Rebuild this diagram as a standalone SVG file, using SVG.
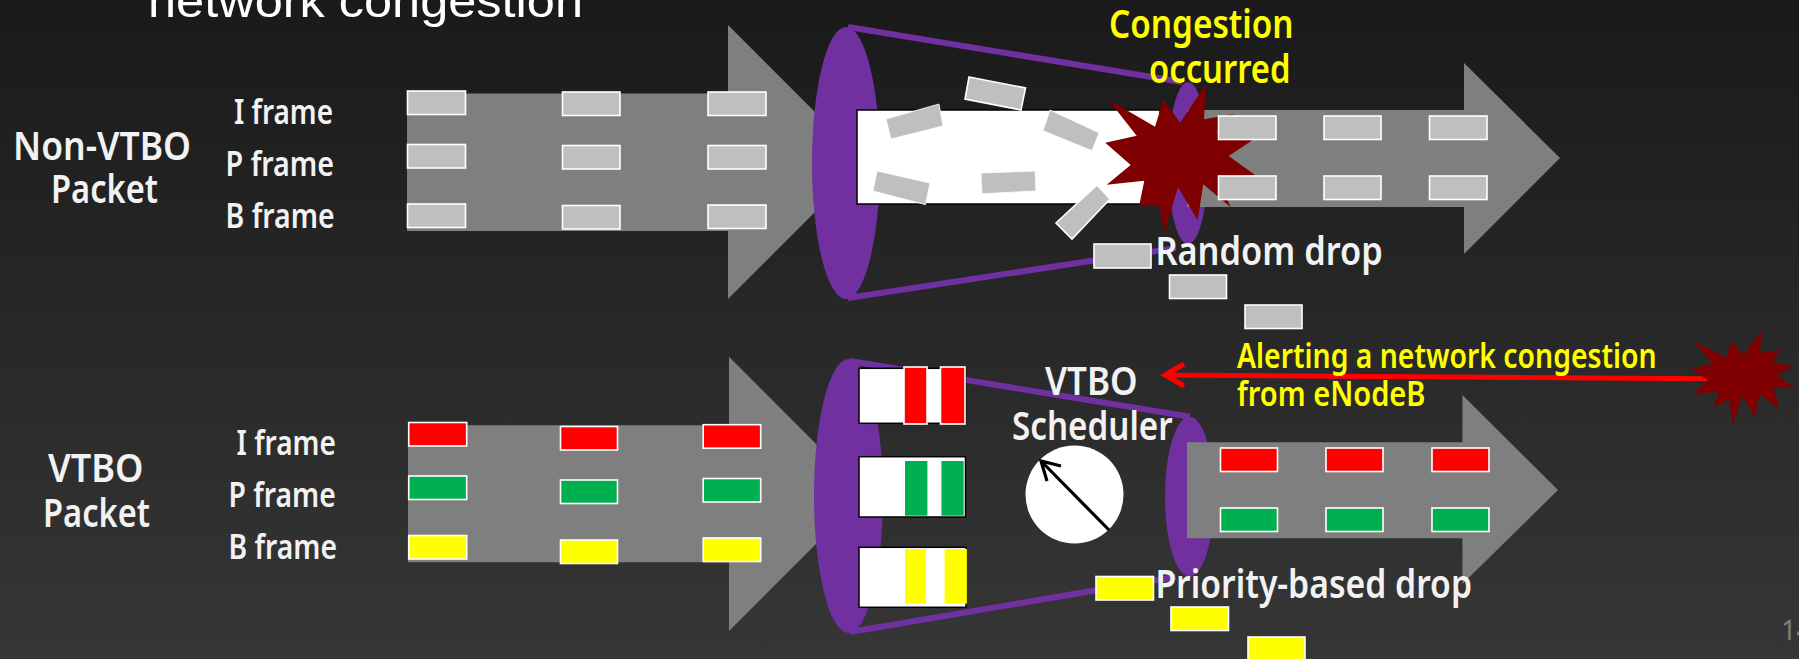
<svg xmlns="http://www.w3.org/2000/svg" width="1799" height="659" viewBox="0 0 1799 659">
<defs>
<linearGradient id="bg" x1="0" y1="0" x2="0" y2="1"><stop offset="0" stop-color="#1a1a1a"/><stop offset="1" stop-color="#363636"/></linearGradient>
</defs>
<style>
.t{font-family:"Noto Sans","DejaVu Sans",sans-serif;font-weight:600;fill:#f2f2f2;font-size:35px}
.lg{font-size:39px}
.y{fill:#ffff00}
.arrow{fill:#7f7f7f}
.pur{fill:#7030a0}
.pl{stroke:#7030a0;stroke-width:6;fill:none}
.pk{stroke:#fff;stroke-width:1.6}
.g{fill:#bfbfbf}.r{fill:#ff0000}.n{fill:#00b050}.w{fill:#ffff00}
.box{fill:#fff;stroke:#000;stroke-width:1.5}
.star{fill:#7f0000}
</style>
<rect width="1799" height="659" fill="url(#bg)"/>
<text x="148" y="17" font-family="'Liberation Sans',Arial,sans-serif" font-size="46" fill="#fff" textLength="435" lengthAdjust="spacingAndGlyphs">network congestion</text>

<g id="nonvtbo-in-arrow">
<polygon class="arrow" points="407,93.5 728,93.5 728,25 865,162 728,299 728,231 407,231"/>
<rect class="pk g" x="407.5" y="91" width="58" height="23.5"/><rect class="pk g" x="562.5" y="92" width="57.5" height="23.5"/><rect class="pk g" x="708" y="92" width="58" height="23.5"/>
<rect class="pk g" x="407.5" y="144.5" width="58" height="23.5"/><rect class="pk g" x="562.5" y="145.5" width="57.5" height="23.5"/><rect class="pk g" x="708" y="145.5" width="58" height="23.5"/>
<rect class="pk g" x="407.5" y="204" width="58" height="23.5"/><rect class="pk g" x="562.5" y="205.5" width="57.5" height="23.5"/><rect class="pk g" x="708" y="205" width="58" height="23.5"/>
</g>
<g id="nonvtbo-pipe">
<ellipse class="pur" cx="846" cy="163" rx="34" ry="136"/>
<ellipse class="pur" cx="1188" cy="163" rx="20" ry="81"/>
</g>
<g id="connectors">
<line class="pl" x1="848" y1="27" x2="1182" y2="82"/>
<line class="pl" x1="848" y1="298" x2="1176" y2="248"/>
<line class="pl" x1="850" y1="361" x2="1190" y2="416.7"/>
<line class="pl" x1="850" y1="632" x2="1176" y2="576.7"/>
</g>
<g id="nonvtbo-box">
<rect class="box" x="857" y="110" width="303" height="94"/>
<g class="g">
<polygon class="pk" points="886,119 939,104 943,126 891,139" style="stroke-width:.8"/>
<polygon class="pk" points="969,77 1025.5,88 1021,110 965,99"/>
<polygon class="pk" points="1050,110 1099,132.7 1092,150.7 1043,130.7" style="stroke-width:.8"/>
<polygon class="pk" points="877,171 930,183 925.5,204.7 873,191" style="stroke-width:.8"/>
<polygon class="pk" points="981,173 1035,171 1036,191 982,193.7" style="stroke-width:.8"/>
</g>
</g>
<g id="nonvtbo-out-arrow">
<polygon class="arrow" points="1187,110 1464,110 1464,63 1560,158 1464,254 1464,207 1187,207"/>
</g>
<g id="congestion-star">
<polygon class="star" points="1206,84 1204,119.3 1233.3,114.3 1216.7,131.7 1252.7,140 1228.7,156 1255,175 1218,178 1230.7,207.3 1203.3,184.3 1197.7,220 1178,187.3 1164.3,233.3 1159.3,205 1139.3,205 1144.3,180.7 1106.7,184.7 1130.7,165 1105.3,142.7 1136.7,135.7 1108,99.3 1155,126.7 1163.3,100 1180.3,122.7"/>
</g>
<g id="nonvtbo-out-packets">
<rect class="pk g" x="1218.5" y="116" width="57.5" height="23.5"/><rect class="pk g" x="1324" y="116" width="57" height="23.5"/><rect class="pk g" x="1429.5" y="116" width="57.5" height="23.5"/>
<rect class="pk g" x="1218.5" y="176" width="57.5" height="23.5"/><rect class="pk g" x="1324" y="176" width="57" height="23.5"/><rect class="pk g" x="1429.5" y="176" width="57.5" height="23.5"/>
<polygon class="pk g" points="1097,185 1110,199 1072,239 1056,223"/>
<rect class="pk g" x="1094" y="244" width="57" height="24"/><rect class="pk g" x="1169.5" y="275" width="57" height="23.5"/><rect class="pk g" x="1245" y="305" width="57" height="23.5"/>
</g>

<g id="vtbo-in-arrow">
<polygon class="arrow" points="408,425.3 729,425.3 729,356.7 866,494 729,631 729,562.3 408,562.3"/>
<rect class="pk r" x="408.7" y="422.5" width="58" height="23.5"/><rect class="pk r" x="560.5" y="426.5" width="57" height="23.5"/><rect class="pk r" x="703.2" y="424.7" width="57.5" height="23.5"/>
<rect class="pk n" x="408.7" y="476" width="58" height="23.5"/><rect class="pk n" x="560.5" y="480" width="57" height="23.5"/><rect class="pk n" x="703.2" y="478.5" width="57.5" height="23.5"/>
<rect class="pk w" x="408.7" y="535.5" width="58" height="23.5"/><rect class="pk w" x="560.5" y="540" width="57" height="23.5"/><rect class="pk w" x="703.2" y="538" width="57.5" height="23.5"/>
</g>
<g id="vtbo-pipe">
<ellipse class="pur" cx="848.5" cy="496" rx="34.5" ry="137"/>
<ellipse class="pur" cx="1189.5" cy="496.7" rx="24.5" ry="80"/>
</g>
<g id="vtbo-queue-i">
<rect class="box" x="859" y="368.3" width="106.5" height="55"/>
<rect class="pk r" x="904" y="367" width="23" height="57"/><rect class="pk r" x="940.5" y="367" width="24.5" height="57"/>
</g>
<g id="vtbo-queue-p">
<rect class="box" x="859" y="456.7" width="106.5" height="60.3"/>
<rect x="905" y="461" width="22.4" height="54.7" class="n"/><rect x="941.4" y="461" width="22.3" height="54.7" class="n"/>
</g>
<g id="vtbo-queue-b">
<rect class="box" x="859" y="547.3" width="107" height="60"/>
<rect x="905" y="549" width="21" height="54.7" class="w"/><rect x="944.6" y="549" width="22.3" height="54.7" class="w"/>
</g>
<g id="vtbo-out-arrow">
<polygon class="arrow" points="1187,442.3 1462.4,442.3 1462.4,395 1558,490 1462.4,584 1462.4,538.3 1187,538.3"/>
<rect class="pk r" x="1220.5" y="448" width="57" height="23.5"/><rect class="pk r" x="1326" y="448" width="57" height="23.5"/><rect class="pk r" x="1432" y="448" width="57" height="23.5"/>
<rect class="pk n" x="1220.5" y="508" width="57" height="23.5"/><rect class="pk n" x="1326" y="508" width="57" height="23.5"/><rect class="pk n" x="1432" y="508" width="57" height="23.5"/>
<rect class="pk w" x="1096" y="576.5" width="57.5" height="23.5"/><rect class="pk w" x="1171" y="607" width="57.5" height="23.5"/><rect class="pk w" x="1248" y="637" width="57" height="30"/>
</g>
<g id="scheduler">
<circle cx="1074.5" cy="494.5" r="49" fill="#fff"/>
<path d="M1109 530L1041 461M1061 466L1041 461L1047 481" fill="none" stroke="#000" stroke-width="3.2"/>
</g>
<g id="alert">
<path d="M1708 378.7L1165 375M1184 364L1165 375L1184 386" fill="none" stroke="#ff0000" stroke-width="5"/>
<polygon class="star" points="1761.7,330.7 1760,352.7 1780.7,350 1771.7,362.3 1794,365.7 1776.7,376 1795.7,388.3 1773.3,387.3 1779.3,409 1759.3,394.3 1755.3,416.7 1742.3,396 1732.7,425 1729,399 1714.3,407.3 1718.3,391.7 1692.3,394.3 1708.3,380.7 1691.7,368.3 1712.7,364 1693.3,340.7 1726,357.3 1731.7,340.7 1743.3,355"/>
</g>
<g id="labels">
<text class="t" x="234" y="124" textLength="99" lengthAdjust="spacingAndGlyphs">I frame</text>
<text class="t" x="225.6" y="176" textLength="108.5" lengthAdjust="spacingAndGlyphs">P frame</text>
<text class="t" x="225.6" y="228" textLength="109" lengthAdjust="spacingAndGlyphs">B frame</text>
<text class="t lg" x="13" y="160" textLength="178" lengthAdjust="spacingAndGlyphs">Non-VTBO</text>
<text class="t lg" x="51" y="203" textLength="107" lengthAdjust="spacingAndGlyphs">Packet</text>
<text class="t lg y" x="1109" y="38" textLength="184.6" lengthAdjust="spacingAndGlyphs">Congestion</text>
<text class="t lg y" x="1149" y="83" textLength="141.4" lengthAdjust="spacingAndGlyphs">occurred</text>
<text class="t lg" x="1155.4" y="265" textLength="227.4" lengthAdjust="spacingAndGlyphs">Random drop</text>
<text class="t" x="236.5" y="455" textLength="99.3" lengthAdjust="spacingAndGlyphs">I frame</text>
<text class="t" x="228.5" y="507" textLength="107.3" lengthAdjust="spacingAndGlyphs">P frame</text>
<text class="t" x="228.5" y="559" textLength="108.5" lengthAdjust="spacingAndGlyphs">B frame</text>
<text class="t lg" x="48" y="482" textLength="95.5" lengthAdjust="spacingAndGlyphs">VTBO</text>
<text class="t lg" x="43" y="527" textLength="107" lengthAdjust="spacingAndGlyphs">Packet</text>
<text class="t lg" x="1045" y="394.5" textLength="92.6" lengthAdjust="spacingAndGlyphs">VTBO</text>
<text class="t lg" x="1012" y="440" textLength="160.6" lengthAdjust="spacingAndGlyphs">Scheduler</text>
<text class="t y" x="1237" y="368" textLength="419.7" lengthAdjust="spacingAndGlyphs">Alerting a network congestion</text>
<text class="t y" x="1237" y="406" textLength="188.5" lengthAdjust="spacingAndGlyphs">from eNodeB</text>
<text class="t lg" x="1155.4" y="597.5" textLength="316.6" lengthAdjust="spacingAndGlyphs">Priority-based drop</text>
<text x="1781" y="640" font-family="'Noto Sans',sans-serif" font-size="27" fill="#7f7f7f">14</text>
</g>
</svg>
